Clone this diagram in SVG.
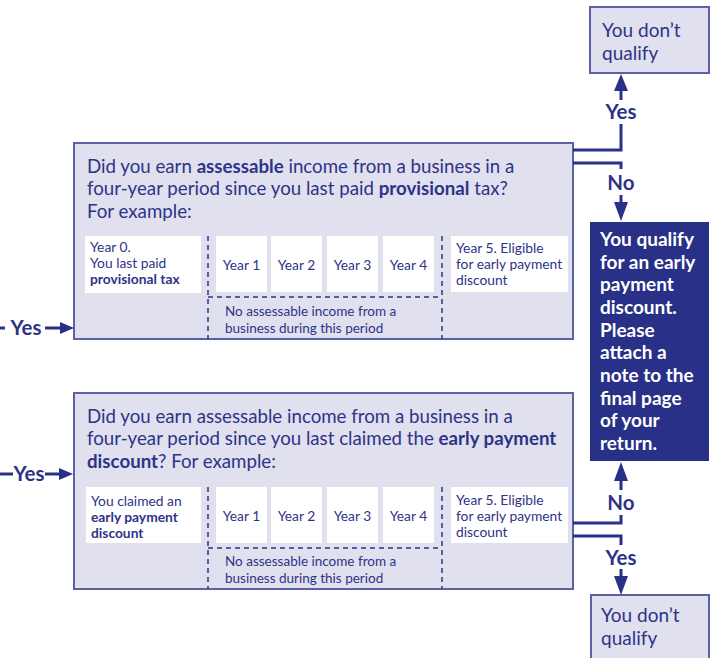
<svg xmlns="http://www.w3.org/2000/svg" width="714" height="658" viewBox="0 0 714 658">
<style>
.box{fill:#e0e0ee;stroke:#5b60a8;stroke-width:2}
.dark{fill:#283087}
.cell{fill:#ffffff}
.dash{stroke:#2e3388;stroke-width:1.5;stroke-dasharray:5 4;fill:none}
.t{font-family:Lato,"Open Sans",sans-serif;fill:#2e3388}
.q{font-size:18.7px}
.c{font-size:13.8px}
.n{font-size:13.5px}
.y{font-size:19px}
.w{font-family:Lato,"Open Sans",sans-serif;fill:#ffffff;font-size:19px;font-weight:bold}
.lbl{font-family:Lato,"Open Sans",sans-serif;fill:#2e3388;font-size:20.5px;font-weight:bold;text-anchor:middle}
.b{font-weight:bold}
.ln{stroke:#283087;stroke-width:3;fill:none}
.ah{fill:#283087}
</style>
<rect width="714" height="658" fill="#ffffff"/>

<g id="q1">
<rect class="box" x="74" y="143" width="499" height="196"/>
<text class="t q" x="87" y="173">Did you earn <tspan class="b">assessable</tspan> income from a business in a</text>
<text class="t q" x="87" y="195">four-year period since you last paid <tspan class="b">provisional</tspan> tax?</text>
<text class="t q" x="87" y="218">For example:</text>
<rect class="cell" x="85" y="236" width="116" height="57"/>
<text class="t c" x="90" y="252">Year 0.</text>
<text class="t c" x="90" y="268">You last paid</text>
<text class="t c b" x="90" y="284">provisional tax</text>
<rect class="cell" x="216" y="236" width="51" height="56"/>
<rect class="cell" x="271" y="236" width="51" height="56"/>
<rect class="cell" x="327" y="236" width="51" height="56"/>
<rect class="cell" x="383" y="236" width="51" height="56"/>
<text class="t c" x="241.5" y="270" text-anchor="middle">Year 1</text>
<text class="t c" x="296.5" y="270" text-anchor="middle">Year 2</text>
<text class="t c" x="352.5" y="270" text-anchor="middle">Year 3</text>
<text class="t c" x="408.5" y="270" text-anchor="middle">Year 4</text>
<rect class="cell" x="451" y="236" width="117" height="56"/>
<text class="t c" x="456" y="253">Year 5. Eligible</text>
<text class="t c" x="456" y="269">for early payment</text>
<text class="t c" x="456" y="285">discount</text>
<path class="dash" d="M208 236V339M442 236V339M208 297H442"/>
<text class="t n" x="225" y="316">No assessable income from a</text>
<text class="t n" x="225" y="333">business during this period</text>
</g>

<g id="q2">
<rect class="box" x="74" y="393" width="499" height="196"/>
<text class="t q" x="87" y="423">Did you earn assessable income from a business in a</text>
<text class="t q" x="87" y="445">four-year period since you last claimed the <tspan class="b">early payment</tspan></text>
<text class="t q" x="87" y="468"><tspan class="b">discount</tspan>? For example:</text>
<rect class="cell" x="86" y="487" width="115" height="56"/>
<text class="t c" x="91" y="506">You claimed an</text>
<text class="t c b" x="91" y="522">early payment</text>
<text class="t c b" x="91" y="538">discount</text>
<rect class="cell" x="216" y="487" width="51" height="56"/>
<rect class="cell" x="271" y="487" width="51" height="56"/>
<rect class="cell" x="327" y="487" width="51" height="56"/>
<rect class="cell" x="383" y="487" width="51" height="56"/>
<text class="t c" x="241.5" y="521" text-anchor="middle">Year 1</text>
<text class="t c" x="296.5" y="521" text-anchor="middle">Year 2</text>
<text class="t c" x="352.5" y="521" text-anchor="middle">Year 3</text>
<text class="t c" x="408.5" y="521" text-anchor="middle">Year 4</text>
<rect class="cell" x="451" y="487" width="117" height="56"/>
<text class="t c" x="456" y="505">Year 5. Eligible</text>
<text class="t c" x="456" y="521">for early payment</text>
<text class="t c" x="456" y="537">discount</text>
<path class="dash" d="M208 487V589M442 487V589M208 548H442"/>
<text class="t n" x="225" y="566">No assessable income from a</text>
<text class="t n" x="225" y="583">business during this period</text>
</g>

<g id="noq1">
<rect class="box" x="590" y="7" width="119" height="66"/>
<text class="t y" x="602" y="37">You don’t</text>
<text class="t y" x="602" y="60">qualify</text>
</g>

<g id="qualify">
<rect class="dark" x="590" y="222" width="119" height="239"/>
<text class="w" x="600" y="246">You qualify</text>
<text class="w" x="600" y="269">for an early</text>
<text class="w" x="600" y="291">payment</text>
<text class="w" x="600" y="314">discount.</text>
<text class="w" x="600" y="337">Please</text>
<text class="w" x="600" y="359">attach a</text>
<text class="w" x="600" y="382">note to the</text>
<text class="w" x="600" y="405">final page</text>
<text class="w" x="600" y="427">of your</text>
<text class="w" x="600" y="450">return.</text>
</g>

<g id="noq2">
<rect class="box" x="591" y="595" width="118" height="70"/>
<text class="t y" x="601" y="622">You don’t</text>
<text class="t y" x="601" y="645">qualify</text>
</g>

<g id="connectors">
<path class="ln" d="M573 150H621V124"/>
<path class="ln" d="M621 100V90"/>
<polygon class="ah" points="621,74 614,91 628,91"/>
<text class="lbl" x="621" y="119">Yes</text>

<path class="ln" d="M573 163H621V169"/>
<path class="ln" d="M621 195V203"/>
<polygon class="ah" points="621,221 614,202 628,202"/>
<text class="lbl" x="621" y="190">No</text>

<path class="ln" d="M573 523H621V515"/>
<path class="ln" d="M621 490V480"/>
<polygon class="ah" points="621,462 614,481 628,481"/>
<text class="lbl" x="621" y="510">No</text>

<path class="ln" d="M573 536H621V545"/>
<path class="ln" d="M621 569V577"/>
<polygon class="ah" points="621,595 614,576 628,576"/>
<text class="lbl" x="621" y="565">Yes</text>

<path class="ln" d="M0 328H5" stroke-width="2.5"/>
<text class="lbl" x="26" y="335">Yes</text>
<path class="ln" d="M45 328H62" stroke-width="2.5"/>
<polygon class="ah" points="74,328 60,322 60,334"/>

<path class="ln" d="M0 474H13" stroke-width="2.5"/>
<text class="lbl" x="29" y="481">Yes</text>
<path class="ln" d="M45 474H60" stroke-width="2.5"/>
<polygon class="ah" points="73,474 59,468 59,480"/>
</g>
</svg>
